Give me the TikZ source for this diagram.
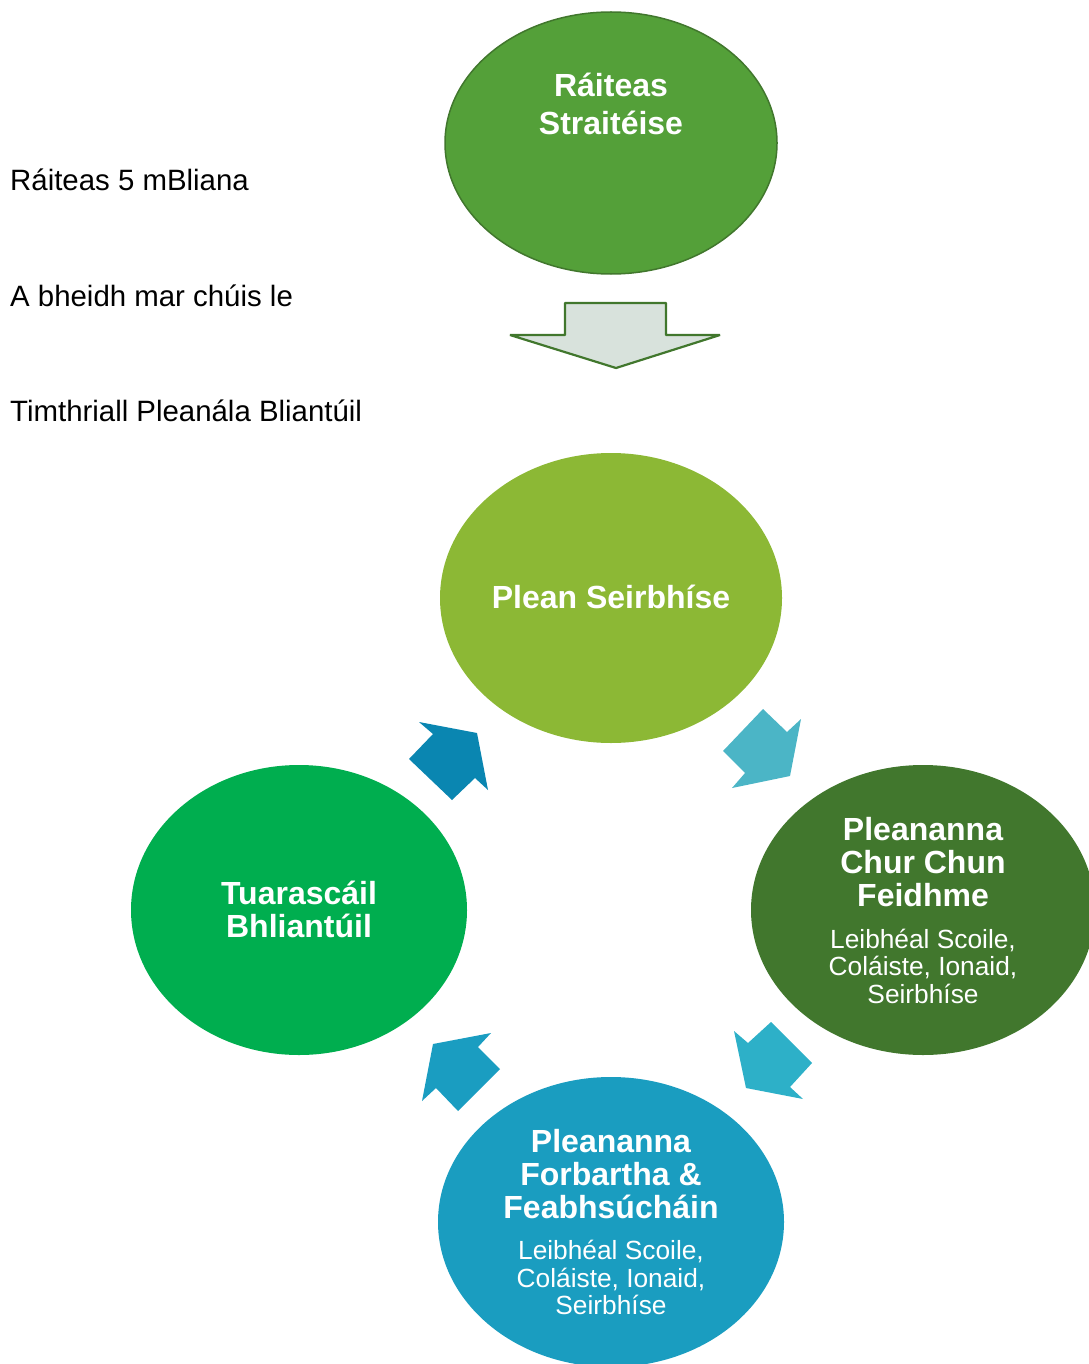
\documentclass[tikz,border=0pt]{standalone}
\usepackage{fontspec}
\setmainfont{Liberation Sans}
\usetikzlibrary{shapes.geometric}
\definecolor{cTop}{HTML}{54A039}
\definecolor{cTopB}{HTML}{41772D}
\definecolor{cPlan}{HTML}{8CB835}
\definecolor{cImpl}{HTML}{41772D}
\definecolor{cDev}{HTML}{1A9DC0}
\definecolor{cRep}{HTML}{00AE4F}
\definecolor{cArA}{HTML}{4BB5C6}
\definecolor{cArB}{HTML}{2DB0C8}
\definecolor{cArC}{HTML}{1A9DC1}
\definecolor{cArD}{HTML}{0A86B1}
\definecolor{cDown}{HTML}{D8E2DC}
\begin{document}
\begin{tikzpicture}[x=1pt,y=-1pt,
  ellnode/.style={ellipse, inner sep=0pt, outer sep=0pt},
  titletxt/.style={text=white, inner sep=0pt, anchor=base, font=\fontsize{32}{34}\selectfont\bfseries},
  subtxt/.style={text=white, inner sep=0pt, anchor=base, font=\fontsize{26.3}{28}\selectfont},
  lefttxt/.style={text=black, inner sep=0pt, anchor=base west, font=\fontsize{29.4}{32}\selectfont}]
\useasboundingbox (0,0) rectangle (1088,1364);
% ellipses
\node[ellnode, fill=cTop, draw=cTopB, line width=1.5pt, minimum width=332pt, minimum height=262pt] (strat) at (611,143) {};
\node[ellnode, fill=cPlan, minimum width=342pt, minimum height=290pt] (plan) at (611,598) {};
\node[ellnode, fill=cImpl, minimum width=344pt, minimum height=290pt] (impl) at (923,910) {};
\node[ellnode, fill=cDev, minimum width=346pt, minimum height=290pt] (dev) at (611,1222) {};
\node[ellnode, fill=cRep, minimum width=336pt, minimum height=290pt] (rep) at (299,910) {};
% texts in ellipses
\node[titletxt] (stratA) at (611,96.5) {Ráiteas};
\node[titletxt] (stratB) at (611,134.5) {Straitéise};
\node[titletxt] (planA) at (611,608.5) {Plean Seirbhíse};
\node[titletxt] (implA) at (923,840.5) {Pleananna};
\node[titletxt] (implB) at (923,873.5) {Chur Chun};
\node[titletxt] (implC) at (923,906.5) {Feidhme};
\node[subtxt] (implD) at (923,948.4) {Leibhéal Scoile,};
\node[subtxt] (implE) at (923,975.9) {Coláiste, Ionaid,};
\node[subtxt] (implF) at (923,1003.4) {Seirbhíse};
\node[titletxt] (devA) at (611,1152.5) {Pleananna};
\node[titletxt] (devB) at (611,1185.5) {Forbartha \&};
\node[titletxt] (devC) at (611,1218.5) {Feabhsúcháin};
\node[subtxt] (devD) at (611,1259.4) {Leibhéal Scoile,};
\node[subtxt] (devE) at (611,1287.4) {Coláiste, Ionaid,};
\node[subtxt] (devF) at (611,1314.4) {Seirbhíse};
\node[titletxt] (repA) at (299,904.5) {Tuarascáil};
\node[titletxt] (repB) at (299,937.5) {Bhliantúil};
% left texts
\node[lefttxt] (lA) at (10,190.5) {Ráiteas 5 mBliana};
\node[lefttxt] (lB) at (10,306) {A bheidh mar chúis le};
\node[lefttxt] (lC) at (10,421.5) {Timthriall Pleanála Bliantúil};
% down block arrow
\draw[fill=cDown, draw=cTopB, line width=2.2pt, line join=bevel]
  (565,303) -- (666,303) -- (666,335) -- (720,335) -- (616,368) -- (510,335) -- (565,335) -- cycle;
% cycle arrows
\fill[cArA] (763,709) -- (787,732) -- (801,719) -- (790,776) -- (732,788) -- (745,773) -- (723,751) -- cycle;
\fill[cArB] (771,1022) -- (812,1063) -- (790,1087) -- (803,1099) -- (746,1088) -- (734,1031) -- (748,1043) -- cycle;
\fill[cArC] (491,1033) -- (478,1047) -- (500,1069) -- (458,1111) -- (436,1088) -- (422,1101) -- (433,1044) -- cycle;
\fill[cArD] (419,722) -- (477,733) -- (488,790) -- (475,778) -- (452,800) -- (409,759) -- (433,734) -- cycle;
\end{tikzpicture}
\end{document}
